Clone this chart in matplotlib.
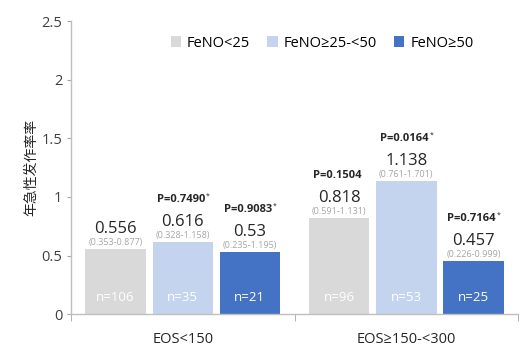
import matplotlib
matplotlib.use("Agg")
import matplotlib.pyplot as plt
import numpy as np

plt.rcParams['font.family'] = ['Open Sans', 'Noto Sans CJK SC', 'DejaVu Sans']

groups = ["EOS<150", "EOS≥150-<300"]
series = ["FeNO<25", "FeNO≥25-<50", "FeNO≥50"]
colors = ["#d9d9d9", "#c5d4ee", "#4472c4"]
values = [[0.556, 0.818], [0.616, 1.138], [0.53, 0.457]]
cis = [["(0.353-0.877)", "(0.591-1.131)"],
       ["(0.328-1.158)", "(0.761-1.701)"],
       ["(0.235-1.195)", "(0.226-0.999)"]]
pvals = [["", "P=0.1504"],
         ["P=0.7490", "P=0.0164"],
         ["P=0.9083", "P=0.7164"]]
stars = [["", ""], ["*", "*"], ["*", "*"]]
ns = [["n=106", "n=96"], ["n=35", "n=53"], ["n=21", "n=25"]]
value_labels = [["0.556", "0.818"], ["0.616", "1.138"], ["0.53", "0.457"]]

fig = plt.figure(figsize=(5.25, 3.51), dpi=100)
ax = fig.add_axes([0.135, 0.105, 0.852, 0.835])

x = np.arange(len(groups))
width = 0.27
step = 0.30
for i, s in enumerate(series):
    xs = x + (i - 1) * step
    bars = ax.bar(xs, values[i], width, color=colors[i], label=s)
    for j, b in enumerate(bars):
        cx = b.get_x() + b.get_width() / 2
        h = b.get_height()
        ax.annotate(cis[i][j], (cx, h), xytext=(0, 2), textcoords='offset pixels',
                    ha='center', va='bottom', fontsize=6.5, color='#a6a6a6')
        ax.annotate(value_labels[i][j], (cx, h), xytext=(0, 12), textcoords='offset pixels',
                    ha='center', va='bottom', fontsize=12, color='#262626')
        if pvals[i][j]:
            ax.annotate(pvals[i][j], (cx, h), xytext=(-2, 37), textcoords='offset pixels',
                        ha='center', va='bottom', fontsize=8, fontweight='bold', color='#262626')
            if stars[i][j]:
                ax.annotate(stars[i][j], (cx, h), xytext=(25, 42), textcoords='offset pixels',
                            ha='center', va='bottom', fontsize=5, color='#262626')
        ax.annotate(ns[i][j], (cx, 0), xytext=(0, 10), textcoords='offset pixels',
                    ha='center', va='bottom', fontsize=9.5, color='white')

ax.set_xlim(-0.5, 1.5)
ax.set_ylim(0, 2.5)
ax.set_yticks([0, 0.5, 1, 1.5, 2, 2.5])
ax.set_yticklabels(["0", "0.5", "1", "1.5", "2", "2.5"])
ax.set_xticks(x)
ax.set_xticklabels(groups)
ax.set_xticks([-0.5, 0.5, 1.5], minor=True)
ax.tick_params(axis='x', which='major', length=0, pad=13, labelsize=10.5, colors='#262626')
ax.tick_params(axis='x', which='minor', length=5, color='#a6a6a6')
ax.tick_params(axis='y', length=3, color='#a6a6a6', labelsize=10.5, labelcolor='#404040', pad=3)

for sp in ['top', 'right']:
    ax.spines[sp].set_visible(False)
for sp in ['left', 'bottom']:
    ax.spines[sp].set_color('#bfbfbf')
    ax.spines[sp].set_linewidth(1)

ax.set_ylabel("年急性发作率率", fontsize=10, color='#262626', labelpad=2)

ax.legend(loc='upper left', bbox_to_anchor=(0.2, 0.985), ncol=3, frameon=False,
          handlelength=0.7, handleheight=0.7, handletextpad=0.4, columnspacing=1.2,
          fontsize=10.5, borderaxespad=0.3)

fig.savefig("out.png", dpi=100)
